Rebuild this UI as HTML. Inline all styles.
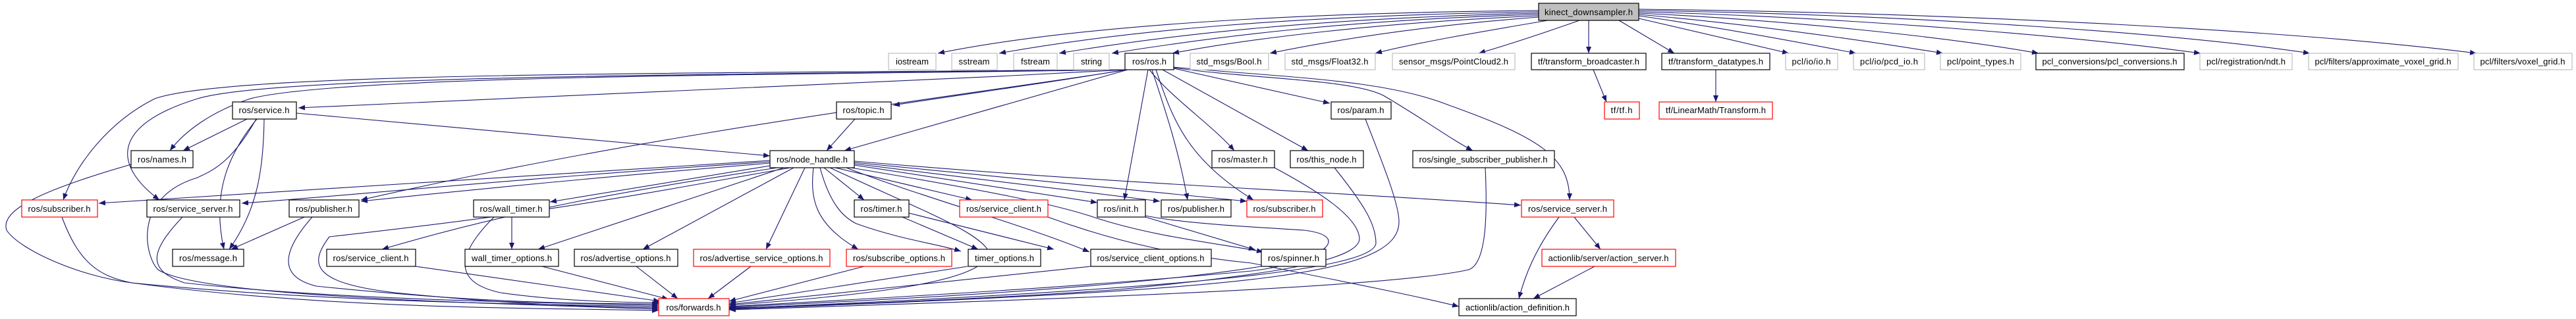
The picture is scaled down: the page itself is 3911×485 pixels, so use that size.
<!DOCTYPE html>
<html><head><meta charset="utf-8"><style>
html,body{margin:0;padding:0;background:#fff;}
svg{display:block;}
text{font-family:"Liberation Sans",Helvetica,Arial,sans-serif;font-size:13px;fill:#000;}
</style></head><body>
<svg width="3911" height="485" viewBox="0 0 3911 485" xmlns="http://www.w3.org/2000/svg">
<defs>
<marker id="a" markerUnits="userSpaceOnUse" markerWidth="11" markerHeight="8" refX="10" refY="4" orient="auto"><path d="M0,0 L10,4 L0,8 z" fill="#191970"/></marker>
</defs>
<g fill="none" stroke="#191970" stroke-width="1.1" marker-end="url(#a)">
<!-- kinect to row1 -->
<path d="M2336,16 C1900,20 1600,45 1424,81"/>
<path d="M2336,18 C1950,24 1700,48 1517,81"/>
<path d="M2336,20 C2000,28 1780,52 1608,81"/>
<path d="M2336,22 C2050,30 1850,55 1688,81"/>
<path d="M2336,24 C2100,34 1900,58 1780,81"/>
<path d="M2336,26 C2150,40 2020,62 1928,81"/>
<path d="M2350,31 C2250,48 2150,65 2088,81"/>
<path d="M2398,31 C2350,48 2300,65 2245,81"/>
<path d="M2412,31 L2412,81"/>
<path d="M2458,31 L2542,81"/>
<path d="M2488,28 L2716,81"/>
<path d="M2488,24 C2600,40 2720,62 2818,81"/>
<path d="M2488,22 C2650,36 2820,60 2950,81"/>
<path d="M2488,20 C2700,30 2950,55 3095,81"/>
<path d="M2488,18 C2800,26 3150,55 3341,81"/>
<path d="M2488,16 C2900,22 3300,50 3507,81"/>
<path d="M2488,14 C3000,20 3500,48 3760,81"/>
<!-- row1 to row2 -->
<path d="M2419,106 L2439,155"/>
<path d="M2605,106 L2605,155"/>
<!-- ros.h edges -->
<path d="M1709,106 C1600,125 1450,145 1356,160"/>
<path d="M1712,106 L1282,229"/>
<path d="M1709,106 C1300,128 900,145 453,164"/>
<path d="M1709,106 C1200,114 520,114 380,150 C320,170 280,200 258,229"/>
<path d="M1709,106 C1000,112 350,110 235,150 C165,185 115,250 96,304"/>
<path d="M1709,106 C1100,114 420,114 300,150 C170,190 170,250 242,304"/>
<path d="M1712,106 C1500,140 1000,200 548,304"/>
<path d="M1745,106 C1780,150 1840,190 1874,229"/>
<path d="M1765,106 L1986,229"/>
<path d="M1782,104 L2019,157"/>
<path d="M1782,103 C1900,120 2050,120 2100,145 C2160,180 2200,210 2236,229"/>
<path d="M1782,102 C1950,118 2100,120 2200,160 C2340,210 2383,240 2383,304"/>
<path d="M1743,106 L1707,304"/>
<path d="M1749,106 C1770,170 1790,230 1803,304"/>
<path d="M1755,106 C1780,180 1800,240 1903,304"/>
<!-- service.h -->
<path d="M375,181 L278,229"/>
<path d="M450,172 L1169,237"/>
<path d="M390,181 C350,230 320,290 340,379"/>
<path d="M401,181 C400,260 390,320 348,379"/>
<path d="M389,181 C350,250 320,260 300,270 C200,300 220,390 240,410 C300,450 700,460 1000,470"/>
<!-- names -->
<path d="M199,250 C60,290 0,320 10,350 C30,380 120,420 200,430 C500,470 800,468 1000,472"/>
<!-- topic -->
<path d="M1298,181 L1255,229"/>
<!-- node_handle edges -->
<path d="M1169,244 L150,309"/>
<path d="M1169,246 C800,270 500,300 367,309"/>
<path d="M1169,248 C900,270 700,290 548,306"/>
<path d="M1180,255 C950,290 780,320 580,379"/>
<path d="M1169,252 L835,307"/>
<path d="M1190,255 L817,379"/>
<path d="M1205,255 L976,379"/>
<path d="M1222,255 L1163,379"/>
<path d="M1235,255 C1230,300 1235,340 1303,379"/>
<path d="M1251,255 L1312,304"/>
<path d="M1245,255 C1260,310 1280,330 1300,340 C1370,365 1420,370 1459,382"/>
<path d="M1268,255 L1476,304"/>
<path d="M1297,251 L1666,308"/>
<path d="M1297,249 L1761,306"/>
<path d="M1297,247 L1893,306"/>
<path d="M1297,245 C1700,280 2000,290 2309,312"/>
<path d="M1292,255 C1500,290 1600,310 1660,330 C1750,360 1850,370 1918,383"/>
<path d="M1285,255 C1400,300 1550,340 1654,383"/>
<path d="M1200,255 C1000,290 860,320 500,360 C470,400 470,430 600,445 C800,465 900,466 1000,468"/>
<path d="M1260,255 C1400,320 1480,350 1500,380 C1510,430 1300,450 1107,464"/>
<!-- row4/5 to forwards -->
<path d="M94,330 C120,400 150,420 200,430 C500,460 800,462 1000,466"/>
<path d="M277,330 C230,380 220,410 280,430 C500,455 800,460 1000,464"/>
<path d="M462,330 L351,379"/>
<path d="M474,330 C430,380 420,420 480,435 C700,458 850,462 1000,462"/>
<path d="M631,405 L1002,458"/>
<path d="M777,330 L777,379"/>
<path d="M750,330 C690,390 690,430 760,445 C850,458 950,460 1002,460"/>
<path d="M823,405 L1015,455"/>
<path d="M966,405 L1029,454"/>
<path d="M1140,405 L1075,454"/>
<path d="M1312,405 L1107,458"/>
<path d="M1370,330 L1485,379"/>
<path d="M1380,324 L1600,379"/>
<path d="M1469,405 L1107,461"/>
<path d="M1656,405 L1107,463"/>
<path d="M1591,330 C1700,370 1800,390 1900,400 C2050,430 2150,450 2215,466"/>
<path d="M1739,330 L1906,380"/>
<path d="M1739,328 C1800,340 1900,345 1980,350 C2060,360 2000,400 1900,412 C1600,440 1300,455 1107,466"/>
<path d="M1915,405 C1700,440 1300,458 1107,467"/>
<path d="M1935,255 C2000,290 2064,330 2064,364 C2060,400 1900,420 1700,440 C1500,455 1200,466 1107,468"/>
<path d="M2026,255 C2070,310 2089,340 2089,370 C2085,410 1800,440 1107,469"/>
<path d="M2073,181 C2100,250 2124,310 2124,337 C2124,420 1900,440 1107,470"/>
<path d="M2255,255 C2258,320 2258,400 2230,410 C2100,440 1500,458 1107,471"/>
<path d="M2367,330 C2330,380 2315,420 2306,454"/>
<path d="M2390,330 L2430,379"/>
<path d="M2421,405 L2328,454"/>
</g>
<g stroke-width="1.2">
<rect x="2336" y="5" width="152" height="26" fill="#bfbfbf" stroke="#000"/>
<rect x="1349" y="81" width="72" height="25" fill="#fff" stroke="#bfbfbf"/>
<rect x="1445" y="81" width="69" height="25" fill="#fff" stroke="#bfbfbf"/>
<rect x="1539" y="81" width="66" height="25" fill="#fff" stroke="#bfbfbf"/>
<rect x="1630" y="81" width="54" height="25" fill="#fff" stroke="#bfbfbf"/>
<rect x="1708" y="81" width="74" height="25" fill="#fff" stroke="#000"/>
<rect x="1807" y="81" width="119" height="25" fill="#fff" stroke="#bfbfbf"/>
<rect x="1951" y="81" width="137" height="25" fill="#fff" stroke="#bfbfbf"/>
<rect x="2114" y="81" width="186" height="25" fill="#fff" stroke="#bfbfbf"/>
<rect x="2325" y="81" width="174" height="25" fill="#fff" stroke="#000"/>
<rect x="2523" y="81" width="164" height="25" fill="#fff" stroke="#000"/>
<rect x="2711" y="81" width="79" height="25" fill="#fff" stroke="#bfbfbf"/>
<rect x="2814" y="81" width="108" height="25" fill="#fff" stroke="#bfbfbf"/>
<rect x="2946" y="81" width="122" height="25" fill="#fff" stroke="#bfbfbf"/>
<rect x="3091" y="81" width="225" height="25" fill="#fff" stroke="#000"/>
<rect x="3340" y="81" width="140" height="25" fill="#fff" stroke="#bfbfbf"/>
<rect x="3505" y="81" width="227" height="25" fill="#fff" stroke="#bfbfbf"/>
<rect x="3756" y="81" width="149" height="25" fill="#fff" stroke="#bfbfbf"/>
<rect x="353" y="155" width="97" height="26" fill="#fff" stroke="#000"/>
<rect x="1270" y="155" width="83" height="26" fill="#fff" stroke="#000"/>
<rect x="2021" y="155" width="91" height="26" fill="#fff" stroke="#000"/>
<rect x="2436" y="155" width="53" height="26" fill="#fff" stroke="#f00"/>
<rect x="2519" y="155" width="172" height="26" fill="#fff" stroke="#f00"/>
<rect x="199" y="229" width="94" height="26" fill="#fff" stroke="#000"/>
<rect x="1169" y="229" width="128" height="26" fill="#fff" stroke="#000"/>
<rect x="1840" y="229" width="95" height="26" fill="#fff" stroke="#000"/>
<rect x="1959" y="229" width="111" height="26" fill="#fff" stroke="#000"/>
<rect x="2145" y="229" width="215" height="26" fill="#fff" stroke="#000"/>
<rect x="33" y="304" width="115" height="26" fill="#fff" stroke="#f00"/>
<rect x="223" y="304" width="141" height="26" fill="#fff" stroke="#000"/>
<rect x="439" y="304" width="106" height="26" fill="#fff" stroke="#000"/>
<rect x="719" y="304" width="115" height="26" fill="#fff" stroke="#000"/>
<rect x="1297" y="304" width="83" height="26" fill="#fff" stroke="#000"/>
<rect x="1457" y="304" width="134" height="26" fill="#fff" stroke="#f00"/>
<rect x="1666" y="304" width="73" height="26" fill="#fff" stroke="#000"/>
<rect x="1763" y="304" width="106" height="26" fill="#fff" stroke="#000"/>
<rect x="1893" y="304" width="115" height="26" fill="#fff" stroke="#f00"/>
<rect x="2310" y="304" width="140" height="26" fill="#fff" stroke="#f00"/>
<rect x="262" y="379" width="108" height="26" fill="#fff" stroke="#000"/>
<rect x="496" y="379" width="135" height="26" fill="#fff" stroke="#000"/>
<rect x="706" y="379" width="142" height="26" fill="#fff" stroke="#000"/>
<rect x="872" y="379" width="157" height="26" fill="#fff" stroke="#000"/>
<rect x="1053" y="379" width="207" height="26" fill="#fff" stroke="#f00"/>
<rect x="1285" y="379" width="160" height="26" fill="#fff" stroke="#f00"/>
<rect x="1470" y="379" width="110" height="26" fill="#fff" stroke="#000"/>
<rect x="1656" y="379" width="183" height="26" fill="#fff" stroke="#000"/>
<rect x="1915" y="379" width="98" height="26" fill="#fff" stroke="#000"/>
<rect x="2341" y="379" width="203" height="26" fill="#fff" stroke="#f00"/>
<rect x="1000" y="454" width="107" height="26" fill="#fff" stroke="#f00"/>
<rect x="2215" y="454" width="178" height="26" fill="#fff" stroke="#000"/>
</g>
<g text-anchor="middle" lengthAdjust="spacingAndGlyphs">
<text x="2412" y="23" textLength="134">kinect_downsampler.h</text>
<text x="1385" y="98" textLength="50">iostream</text>
<text x="1479" y="98" textLength="47">sstream</text>
<text x="1572" y="98" textLength="44">fstream</text>
<text x="1657" y="98" textLength="32">string</text>
<text x="1745" y="98" textLength="52">ros/ros.h</text>
<text x="1866" y="98" textLength="99">std_msgs/Bool.h</text>
<text x="2019" y="98" textLength="117">std_msgs/Float32.h</text>
<text x="2207" y="98" textLength="166">sensor_msgs/PointCloud2.h</text>
<text x="2412" y="98" textLength="154">tf/transform_broadcaster.h</text>
<text x="2605" y="98" textLength="144">tf/transform_datatypes.h</text>
<text x="2750" y="98" textLength="59">pcl/io/io.h</text>
<text x="2868" y="98" textLength="88">pcl/io/pcd_io.h</text>
<text x="3007" y="98" textLength="102">pcl/point_types.h</text>
<text x="3203" y="98" textLength="205">pcl_conversions/pcl_conversions.h</text>
<text x="3410" y="98" textLength="120">pcl/registration/ndt.h</text>
<text x="3618" y="98" textLength="207">pcl/filters/approximate_voxel_grid.h</text>
<text x="3830" y="98" textLength="129">pcl/filters/voxel_grid.h</text>
<text x="401" y="172" textLength="77">ros/service.h</text>
<text x="1311" y="172" textLength="63">ros/topic.h</text>
<text x="2066" y="172" textLength="71">ros/param.h</text>
<text x="2462" y="172" textLength="33">tf/tf.h</text>
<text x="2605" y="172" textLength="152">tf/LinearMath/Transform.h</text>
<text x="246" y="247" textLength="74">ros/names.h</text>
<text x="1233" y="247" textLength="108">ros/node_handle.h</text>
<text x="1887" y="247" textLength="75">ros/master.h</text>
<text x="2014" y="247" textLength="91">ros/this_node.h</text>
<text x="2252" y="247" textLength="195">ros/single_subscriber_publisher.h</text>
<text x="90" y="322" textLength="95">ros/subscriber.h</text>
<text x="293" y="322" textLength="121">ros/service_server.h</text>
<text x="492" y="322" textLength="86">ros/publisher.h</text>
<text x="776" y="322" textLength="95">ros/wall_timer.h</text>
<text x="1338" y="322" textLength="63">ros/timer.h</text>
<text x="1524" y="322" textLength="114">ros/service_client.h</text>
<text x="1702" y="322" textLength="53">ros/init.h</text>
<text x="1816" y="322" textLength="86">ros/publisher.h</text>
<text x="1950" y="322" textLength="95">ros/subscriber.h</text>
<text x="2380" y="322" textLength="120">ros/service_server.h</text>
<text x="316" y="397" textLength="88">ros/message.h</text>
<text x="563" y="397" textLength="115">ros/service_client.h</text>
<text x="777" y="397" textLength="122">wall_timer_options.h</text>
<text x="950" y="397" textLength="137">ros/advertise_options.h</text>
<text x="1156" y="397" textLength="187">ros/advertise_service_options.h</text>
<text x="1365" y="397" textLength="140">ros/subscribe_options.h</text>
<text x="1525" y="397" textLength="90">timer_options.h</text>
<text x="1747" y="397" textLength="163">ros/service_client_options.h</text>
<text x="1964" y="397" textLength="78">ros/spinner.h</text>
<text x="2442" y="397" textLength="183">actionlib/server/action_server.h</text>
<text x="1053" y="472" textLength="83">ros/forwards.h</text>
<text x="2304" y="472" textLength="158">actionlib/action_definition.h</text>
</g>
</svg>
</body></html>
